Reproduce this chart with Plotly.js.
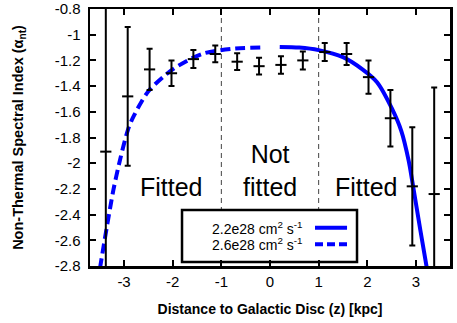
<!DOCTYPE html>
<html>
<head>
<meta charset="utf-8">
<script src="https://cdn.plot.ly/plotly-3.0.1.min.js"></script>
<style>html,body{margin:0;padding:0;background:#fff;}#chart{width:457px;height:323px;}</style>
</head>
<body>
<div id="chart"></div>
<script>
// Measured data points (distance z in kpc, spectral index, symmetric error)
const zPoints = [-3.375, -2.925, -2.475, -2.025, -1.575, -1.125, -0.675, -0.225,
                 0.225, 0.675, 1.125, 1.575, 2.025, 2.475, 2.925, 3.375];
const alphaValues = [-1.91, -1.48, -1.27, -1.30, -1.19, -1.15, -1.21, -1.245,
                     -1.235, -1.20, -1.135, -1.15, -1.33, -1.65, -2.18, -2.24];
const alphaErrors = [1.2, 0.54, 0.16, 0.10, 0.07, 0.065, 0.065, 0.065,
                     0.068, 0.07, 0.07, 0.085, 0.13, 0.22, 0.46, 0.83];

// Fitted model curve, D = 2.2e28 cm^2 s^-1 (positive z)
const fitSolidZ = [0.2, 0.6, 1.0, 1.5, 1.9, 2.2, 2.5, 2.7, 2.85, 2.92, 3.09, 3.23];
const fitSolidA = [-1.095, -1.10, -1.12, -1.175, -1.27, -1.37, -1.57, -1.75, -1.98, -2.13, -2.52, -2.83];

// Fitted model curve, D = 2.6e28 cm^2 s^-1 (negative z)
const fitDashZ = [-0.2, -0.8, -1.4, -2.0, -2.5, -2.81, -2.92, -3.08, -3.22, -3.40, -3.50];
const fitDashA = [-1.10, -1.11, -1.15, -1.27, -1.44, -1.64, -1.74, -1.97, -2.21, -2.60, -2.83];

// Region dividers and labels
const dividerZ = [-1, 1];
const legendLabels = ["2.2e28 cm<sup>2</sup> s<sup>-1</sup>", "2.6e28 cm<sup>2</sup> s<sup>-1</sup>"];
const yTickVals = [-0.8, -1, -1.2, -1.4, -1.6, -1.8, -2, -2.2, -2.4, -2.6, -2.8];
const yTickText = ["-0.8", "-1", "-1.2", "-1.4", "-1.6", "-1.8", "-2", "-2.2", "-2.4", "-2.6", "-2.8"];
const xTickVals = [-3, -2, -1, 0, 1, 2, 3];
const xTickText = ["-3", "-2", "-1", "0", "1", "2", "3"];
const yTitle = "<b>Non-Thermal Spectral Index (α<sub>nt</sub>)</b>";
const xTitle = "<b>Distance to Galactic Disc (z) [kpc]</b>";

const FONT = "Liberation Sans, Arial, Helvetica, sans-serif";
const BLUE = "#0000ff";

const traces = [
  {
    x: fitDashZ, y: fitDashA, mode: "lines", type: "scatter",
    line: {color: BLUE, width: 4, dash: "10px,5px", shape: "spline", smoothing: 0.8},
    hoverinfo: "skip", showlegend: false
  },
  {
    x: fitSolidZ, y: fitSolidA, mode: "lines", type: "scatter",
    line: {color: BLUE, width: 4, shape: "spline", smoothing: 0.8},
    hoverinfo: "skip", showlegend: false
  },
  {
    x: zPoints, y: alphaValues, mode: "markers", type: "scatter",
    marker: {symbol: "line-ew", size: 8, color: "#000", line: {color: "#000", width: 2}},
    error_y: {type: "data", array: alphaErrors, visible: true, color: "#000", thickness: 2, width: 3},
    showlegend: false
  }
];

const shapes = dividerZ.map(z => ({
  type: "line", xref: "x", yref: "paper", x0: z, x1: z, y0: 0, y1: 1,
  line: {color: "#444", width: 1, dash: "5px,4px"}, layer: "below"
}));

// Legend box (drawn manually so the line sample sits right of the text)
shapes.push({
  type: "rect", xref: "paper", yref: "paper", x0: 0.2556, x1: 0.7417, y0: 0.0156, y1: 0.2179,
  line: {color: "#000", width: 2.5}, fillcolor: "#fff", layer: "below"
});
const legendRowsY = [0.149, 0.0844];
shapes.push({
  type: "line", xref: "paper", yref: "paper", x0: 0.625, x1: 0.714, y0: legendRowsY[0], y1: legendRowsY[0],
  line: {color: BLUE, width: 4}, layer: "below"
});
shapes.push({
  type: "line", xref: "paper", yref: "paper", x0: 0.625, x1: 0.714, y0: legendRowsY[1], y1: legendRowsY[1],
  line: {color: BLUE, width: 4, dash: "8px,4px"}, layer: "below"
});

const annotations = [
  {x: -2.03, y: -2.185, xref: "x", yref: "y", text: "Fitted", showarrow: false,
   font: {family: FONT, size: 25, color: "#000"}},
  {x: 0, y: -2.053, xref: "x", yref: "y", text: "Not<br>fitted", showarrow: false,
   font: {family: FONT, size: 25, color: "#000"}},
  {x: 1.98, y: -2.185, xref: "x", yref: "y", text: "Fitted", showarrow: false,
   font: {family: FONT, size: 25, color: "#000"}},
  {x: 0.594, y: legendRowsY[0], xref: "paper", yref: "paper", text: legendLabels[0], showarrow: false,
   xanchor: "right", yanchor: "middle", font: {family: FONT, size: 14, color: "#000"}},
  {x: 0.594, y: legendRowsY[1], xref: "paper", yref: "paper", text: legendLabels[1], showarrow: false,
   xanchor: "right", yanchor: "middle", font: {family: FONT, size: 14, color: "#000"}},
  {x: -0.199, y: 0.5, xref: "paper", yref: "paper", text: yTitle, showarrow: false, textangle: -90,
   xanchor: "center", yanchor: "middle", font: {family: FONT, size: 14.5, color: "#000"}}
];

const layout = {
  width: 457, height: 323,
  margin: {l: 90, r: 7, t: 9, b: 57},
  paper_bgcolor: "#fff", plot_bgcolor: "#fff",
  font: {family: FONT, size: 15, color: "#000"},
  showlegend: false,
  xaxis: {
    range: [-3.7, 3.7], tickvals: xTickVals, ticktext: xTickText,
    ticks: "inside", ticklen: 6, tickwidth: 2, tickcolor: "#000",
    showline: true, linewidth: 2.5, linecolor: "#000", mirror: "allticks",
    showgrid: false, zeroline: false,
    tickfont: {family: FONT, size: 15},
    title: {text: xTitle, font: {family: FONT, size: 14}, standoff: 16}
  },
  yaxis: {
    range: [-2.8, -0.8], tickvals: yTickVals, ticktext: yTickText,
    ticks: "inside", ticklen: 6, tickwidth: 2, tickcolor: "#000",
    showline: true, linewidth: 2.5, linecolor: "#000", mirror: "allticks",
    showgrid: false, zeroline: false, ticklabelstandoff: 4,
    tickfont: {family: FONT, size: 15}
  },
  shapes: shapes,
  annotations: annotations
};

Plotly.newPlot("chart", traces, layout, {displayModeBar: false, staticPlot: true});
</script>
</body>
</html>
